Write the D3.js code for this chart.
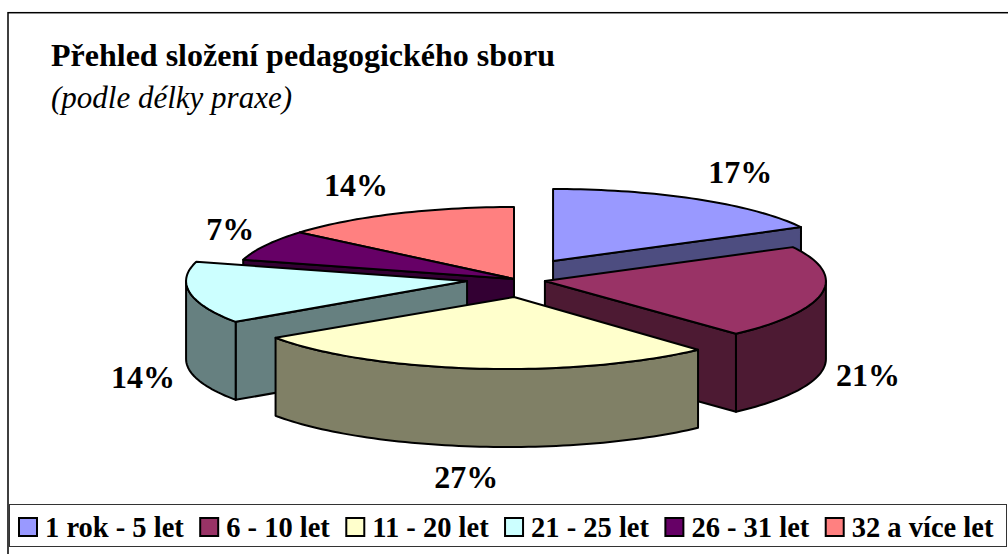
<!DOCTYPE html>
<html>
<head>
<meta charset="utf-8">
<script src="https://cdn.jsdelivr.net/npm/d3@7"></script>
<style>
  html, body { margin: 0; padding: 0; background: #fff; }
  svg { display: block; }
  text { font-family: "Liberation Serif", serif; fill: #000; }
</style>
</head>
<body>
<div id="chart"></div>
<script>
// chart data
const categories = ["1 rok - 5 let", "6 - 10 let", "11 - 20 let", "21 - 25 let", "26 - 31 let", "32 a více let"];
const shares = [17.2, 20.9, 27.3, 13.9, 6.9, 13.8];
const shareLabels = ["17%", "21%", "27%", "14%", "7%", "14%"];
const chartTitle = "Přehled složení pedagogického sboru";
const chartSubtitle = "(podle délky praxe)";

// colours of the slice tops and of their side walls
const topColors = ["#9999ff", "#993366", "#ffffcc", "#ccffff", "#660066", "#ff8080"];
const wallColors = ["#4d4d80", "#4d1a33", "#808066", "#668080", "#330033", "#804040"];

// explosion of each slice, in pie radii (x and y have their own radius)
const explodeX = [0.139, 0.110, 0, -0.167, 0, 0];
const explodeY = [-0.25, 0.028, 0.25, 0.028, 0, 0];
const rimShiftX = [0, 0, -0.025, 0, 0, 0];

// label anchors, in pie radii too
const labelX = [0.805, 1.260, -0.170, -1.320, -1.010, -0.562];
const labelY = [-1.333, 1.486, 2.903, 1.514, -0.542, -1.153];

const width = 1008, height = 554;
const pieX = 514, pieY = 279, radiusX = 281, radiusY = 72;
const depth = 78 / radiusY;

// back slices first, the yellow one last
const drawOrder = [0, 5, 4, 1, 3, 2];

const svg = d3.select("#chart")
    .append("svg")
    .attr("width", width)
    .attr("height", height);

// chart frame
svg.append("rect")
    .attr("x", 8)
    .attr("y", 12.7)
    .attr("width", 1010)
    .attr("height", 560)
    .attr("fill", "#fff")
    .attr("stroke", "#000")
    .attr("stroke-width", 1.5);

/*Create chart title*/
svg.append("text")
    .attr("x", 51)
    .attr("y", 66)
    .attr("font-size", "32px")
    .attr("font-weight", "bold")
    .text(chartTitle);

svg.append("text")
    .attr("x", 51)
    .attr("y", 108)
    .attr("font-size", "31px")
    .attr("font-style", "italic")
    .text(chartSubtitle);

const xScale = d3.scaleLinear().domain([-1, 1]).range([pieX - radiusX, pieX + radiusX]);
const yScale = d3.scaleLinear().domain([-1, 1]).range([pieY - radiusY, pieY + radiusY]);

const line = d3.line()
    .x(function(d){return xScale(d[0]);})
    .y(function(d){return yScale(d[1]);});

const pie = d3.pie().sort(null);
const slices = pie(shares);

// points along the rim between two angles
function rim(i, a0, a1, drop) {
    const n = Math.max(2, Math.ceil((a1 - a0) * 40));
    return d3.range(n + 1).map(function(k){
        const a = a0 + (a1 - a0) * k / n;
        return [Math.sin(a) + explodeX[i] + rimShiftX[i], -Math.cos(a) + explodeY[i] + drop];
    });
}

function apex(i, drop) {
    return [explodeX[i], explodeY[i] + drop];
}

function drawFace(g, points, color) {
    g.append("path")
        .attr("d", line(points) + "Z")
        .attr("fill", color)
        .attr("stroke", "#000")
        .attr("stroke-width", 2)
        .attr("stroke-linejoin", "round");
}

drawOrder.forEach(function(i){
    const s = slices[i];
    const g = svg.append("g").attr("class", "slice");

    // radial wall facing the viewer
    if (Math.cos(s.endAngle + Math.PI / 2) < -0.001) {
        const e = rim(i, s.endAngle, s.endAngle, 0)[0];
        drawFace(g, [apex(i, 0), e, [e[0], e[1] + depth], apex(i, depth)], wallColors[i]);
    }
    if (Math.cos(s.startAngle - Math.PI / 2) < -0.001) {
        const e = rim(i, s.startAngle, s.startAngle, 0)[0];
        drawFace(g, [apex(i, 0), e, [e[0], e[1] + depth], apex(i, depth)], wallColors[i]);
    }

    // outer wall, only the front half of the pie shows it
    const a0 = Math.max(s.startAngle, Math.PI / 2);
    const a1 = Math.min(s.endAngle, 3 * Math.PI / 2);
    if (a1 > a0) {
        drawFace(g, rim(i, a0, a1, 0).concat(rim(i, a0, a1, depth).reverse()), wallColors[i]);
    }

    // top of the slice
    drawFace(g, [apex(i, 0)].concat(rim(i, s.startAngle, s.endAngle, 0)), topColors[i]);
});

// percent labels
svg.selectAll(".share")
    .data(shareLabels)
    .enter()
    .append("text")
    .attr("class", "share")
    .attr("x", function(d,i){return xScale(labelX[i]);})
    .attr("y", function(d,i){return yScale(labelY[i]);})
    .attr("text-anchor", "middle")
    .attr("font-size", "32px")
    .attr("font-weight", "bold")
    .text(function(d){return d;});

// legend box
svg.append("rect")
    .attr("x", 9.5)
    .attr("y", 504.5)
    .attr("width", 997)
    .attr("height", 42)
    .attr("fill", "#fff")
    .attr("stroke", "#333")
    .attr("stroke-width", 1);

let legendX = 18;
categories.forEach(function(c, i){
    svg.append("rect")
        .attr("x", legendX + 1)
        .attr("y", 518)
        .attr("width", 18)
        .attr("height", 18)
        .attr("fill", topColors[i])
        .attr("stroke", "#000")
        .attr("stroke-width", 2);

    const label = svg.append("text")
        .attr("x", legendX + 27)
        .attr("y", 537)
        .attr("font-size", "28.5px")
        .attr("font-weight", "bold")
        .text(c);

    legendX += 27 + label.node().getComputedTextLength() + 15.4;
});
</script>
</body>
</html>
